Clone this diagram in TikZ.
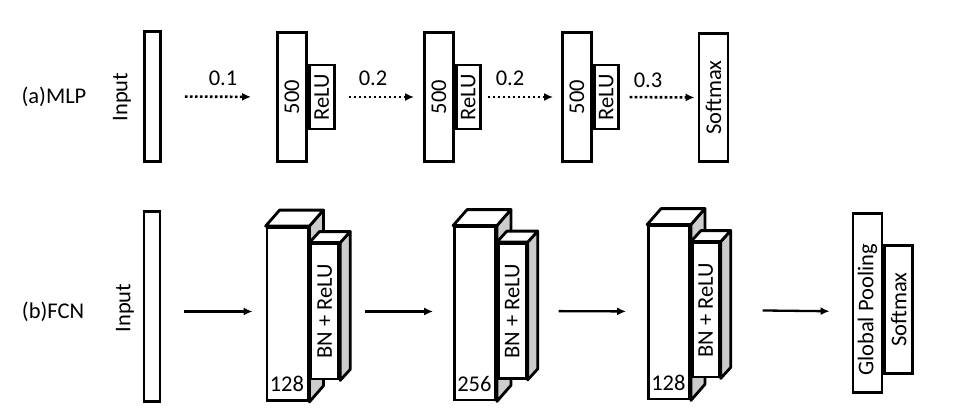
\documentclass[tikz,border=0pt]{standalone}
\usepackage{fontspec}
\setmainfont{Carlito}
\usetikzlibrary{arrows.meta}
\tikzset{
  box/.style={draw, line width=2.8pt, fill=white, inner sep=0pt, line join=miter},
  face/.style={draw, line width=2.8pt, line join=round},
  arr/.style={-{Latex[length=9pt,width=8pt]}, line width=2.3pt},
  dotarr/.style={arr, dash pattern=on 2.6pt off 2.4pt, line width=2.6pt},
  lbl/.style={inner sep=0pt},
  num/.style={inner sep=0pt, anchor=base west},
}
\newcommand{\boxfaces}[3]{%
  \path[face, fill=gray!40] (#1.north east) -- ++(#2,-#3) -- ([shift={(#2,-#3)}]#1.south east) -- (#1.south east) -- cycle;
  \path[face, fill=white] (#1.north west) -- ++(#2,-#3) -- ([shift={(#2,-#3)}]#1.north east) -- (#1.north east) -- cycle;
}
\begin{document}
\begin{tikzpicture}[x=1pt, y=-1pt, font=\fontsize{22.5}{26}\selectfont]
\useasboundingbox (0,0) rectangle (971,414);

% ---------- (a) MLP ----------
\node[lbl] (ta) at (54,97) {(a)MLP};
\node[lbl, rotate=90] (tina) at (122,97) {Input};
\node[box, minimum width=16, minimum height=130] (ina) at (152.5,96.5) {};

\node[box, minimum width=29, minimum height=129] (h1) at (292,97) {\rotatebox{90}{500}};
\node[box, anchor=west, minimum width=25, minimum height=64] (r1) at (h1.east) {\rotatebox{90}{ReLU}};

\node[box, minimum width=29, minimum height=129] (h2) at (439,97) {\rotatebox{90}{500}};
\node[box, anchor=west, minimum width=24, minimum height=64] (r2) at (h2.east) {\rotatebox{90}{ReLU}};

\node[box, minimum width=29, minimum height=129] (h3) at (577,97) {\rotatebox{90}{500}};
\node[box, anchor=west, minimum width=24, minimum height=64] (r3) at (h3.east) {\rotatebox{90}{ReLU}};

\node[box, minimum width=29, minimum height=128] (sm) at (713.5,97.5) {\rotatebox{90}{Softmax}};

\draw[dotarr, shorten <=23pt, shorten >=25pt] (ina.east) -- (h1.west);
\draw[dotarr, shorten <=13pt, shorten >=9pt] (r1.east) -- (h2.west);
\draw[dotarr, shorten <=6pt, shorten >=8pt] (r2.east) -- (h3.west);
\draw[dotarr, shorten <=10pt, shorten >=3pt] (r3.east) -- (sm.west);

\node[lbl] (p1) at (223,78) {0.1};
\node[lbl] (p2) at (373,78) {0.2};
\node[lbl] (p3) at (510,78) {0.2};
\node[lbl] (p4) at (648,80) {0.3};

% ---------- (b) FCN ----------
\node[lbl] (tb) at (53,312) {(b)FCN};
\node[lbl, rotate=90] (tinb) at (125,308) {Input};
\node[box, minimum width=16, minimum height=190] (inb) at (152,306.5) {};

% block 1
\node[box, minimum width=41, minimum height=173] (c1) at (287.5,314) {};
\boxfaces{c1}{14}{16}
\node[num] (n1) at ([shift={(4,-10)}]c1.south west) {128};
\node[box, anchor=west, minimum width=28, minimum height=135] (b1) at (c1.east |- 0,311.5) {\rotatebox{90}{BN + ReLU}};
\boxfaces{b1}{10}{11}

% block 2
\node[box, minimum width=41, minimum height=173] (c2) at (475,313.5) {};
\boxfaces{c2}{14}{16}
\node[num] (n2) at ([shift={(4,-10)}]c2.south west) {256};
\node[box, anchor=west, minimum width=28, minimum height=135] (b2) at (c2.east |- 0,311) {\rotatebox{90}{BN + ReLU}};
\boxfaces{b2}{10}{11}

% block 3
\node[box, minimum width=41, minimum height=173] (c3) at (669,312.5) {};
\boxfaces{c3}{14}{16}
\node[num] (n3) at ([shift={(4,-10)}]c3.south west) {128};
\node[box, anchor=west, minimum width=27, minimum height=134] (b3) at (c3.east |- 0,310) {\rotatebox{90}{BN + ReLU}};
\boxfaces{b3}{10}{11}

% output
\node[box, minimum width=29, minimum height=179] (gp) at (867.5,303) {};
\node[lbl, rotate=90] (gpt) at (867.5,310) {Global Pooling};
\node[box, anchor=west, minimum width=28, minimum height=128] (sb) at (gp.east |- 0,309.5) {\rotatebox{90}{Softmax}};

\draw[arr, shorten <=23pt, shorten >=13pt] (inb.east |- b1.west) -- (c1.west |- b1.west);
\draw[arr, shorten <=25pt, shorten >=20pt] (b1.east) -- (c2.west |- b1.east);
\draw[arr, shorten <=31pt, shorten >=21pt] (b2.east) -- (c3.west |- b1.east);
\draw[arr, shorten <=42pt, shorten >=22pt] (b3.east) -- (gp.west |- b1.east);
\end{tikzpicture}
\end{document}
